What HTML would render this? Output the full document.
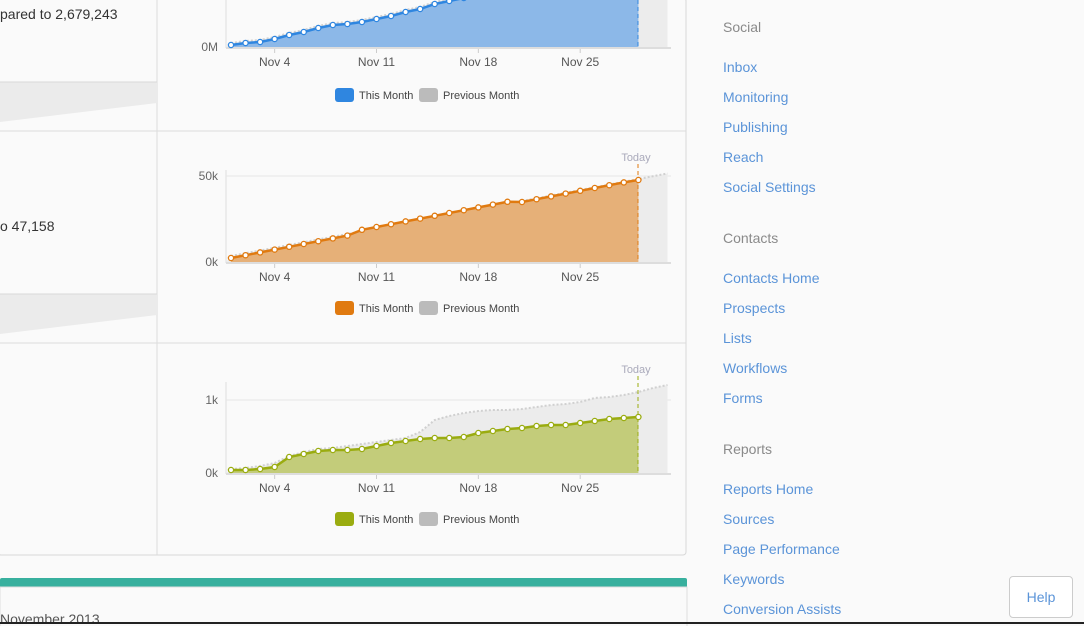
<!DOCTYPE html>
<html><head><meta charset="utf-8"><style>
body{margin:0;width:1084px;height:626px;overflow:hidden;background:#fafafa;font-family:"Liberation Sans",sans-serif;position:relative}
.side{position:absolute;left:723px;font-size:14px;color:#5b94d8}
.hd{position:absolute;left:723px;font-size:14px;color:#8a8a8a}
</style></head><body>
<svg id="s" width="1084" height="626" style="position:absolute;left:0;top:0" font-family="Liberation Sans, sans-serif">
<rect x="-2" y="-2" width="688" height="557" fill="#fafafa" stroke="#d8d8d8" rx="3"/>
<line x1="157" y1="0" x2="157" y2="555" stroke="#dcdcdc"/>
<line x1="0" y1="131" x2="686" y2="131" stroke="#dcdcdc"/>
<line x1="0" y1="343" x2="686" y2="343" stroke="#dcdcdc"/>
<polygon points="0,82 157,82 157,103 0,122" fill="#ebebeb"/>
<line x1="0" y1="82" x2="157" y2="82" stroke="#d8d8d8"/>
<polygon points="0,294 157,294 157,315 0,334" fill="#ebebeb"/>
<line x1="0" y1="294" x2="157" y2="294" stroke="#d8d8d8"/>
<text x="0" y="19" font-size="14" fill="#333">pared to 2,679,243</text>
<text x="0" y="231" font-size="14" fill="#333">o 47,158</text>
<rect x="0" y="578" width="687" height="10" fill="#38b09e" rx="2"/>
<rect x="0" y="587" width="687" height="40" fill="#fafafa" stroke="#ddd"/>
<text x="0" y="624" font-size="14" fill="#555">November 2013</text>
<line x1="0" y1="623" x2="1084" y2="623" stroke="#222" stroke-width="2"/>
<g id="c"></g>
</svg>
<div class="hd" style="top:19px">Social</div>
<div class="side" style="top:59px">Inbox</div>
<div class="side" style="top:89px">Monitoring</div>
<div class="side" style="top:119px">Publishing</div>
<div class="side" style="top:149px">Reach</div>
<div class="side" style="top:179px">Social Settings</div>
<div class="hd" style="top:230px">Contacts</div>
<div class="side" style="top:270px">Contacts Home</div>
<div class="side" style="top:300px">Prospects</div>
<div class="side" style="top:330px">Lists</div>
<div class="side" style="top:360px">Workflows</div>
<div class="side" style="top:390px">Forms</div>
<div class="hd" style="top:441px">Reports</div>
<div class="side" style="top:481px">Reports Home</div>
<div class="side" style="top:511px">Sources</div>
<div class="side" style="top:541px">Page Performance</div>
<div class="side" style="top:571px">Keywords</div>
<div class="side" style="top:601px">Conversion Assists</div>
<div style="position:absolute;left:1009px;top:576px;width:62px;height:40px;border:1px solid #ccc;border-radius:4px;background:#fff;color:#5b94d8;font-size:14px;text-align:center;line-height:40px">Help</div>
<script>
var g=document.getElementById('c'),h='';
function X(d){return 231+(d-1)*14.55}
function chart(base,ticks,cur,prev,col,fill,top,today,lo){
 h+='<line x1="226" y1="'+top+'" x2="226" y2="'+(base+1)+'" stroke="#ddd"/>';
 ticks.forEach(function(t){h+='<text x="218" y="'+(t[1]+4)+'" font-size="12" fill="#666" text-anchor="end">'+t[0]+'</text>';if(t[1]!=base)h+='<line x1="226" y1="'+t[1]+'" x2="671" y2="'+t[1]+'" stroke="#e6e6e6"/>';});
 var pp='226,'+base+' ';prev.forEach(function(v,i){pp+=X(i+1)+','+v+' '});pp+=X(31)+','+base;
 h+='<polygon points="'+pp+'" fill="#ececec"/>';
 var pl='';prev.forEach(function(v,i){pl+=X(i+1)+','+v+' '});
 h+='<polyline points="'+pl+'" fill="none" stroke="#d0d0d0" stroke-width="2" stroke-dasharray="2,2"/>';
 var cp=X(1)+','+base+' ',cl='';cur.forEach(function(v,i){cp+=X(i+1)+','+v+' ';cl+=X(i+1)+','+v+' '});cp+=X(cur.length)+','+base;
 h+='<polygon points="'+cp+'" fill="'+fill+'"/>';
 h+='<line x1="226" y1="'+(base+1)+'" x2="671" y2="'+(base+1)+'" stroke="#ddd" stroke-width="2"/>';
 h+='<line x1="638" y1="'+(today?top-6:0)+'" x2="638" y2="'+base+'" stroke="'+col+'" stroke-dasharray="4,3"/>';
 if(today)h+='<text x="636" y="'+(top-9)+'" font-size="11" fill="#aab" text-anchor="middle">Today</text>';
 h+='<polyline points="'+cl+'" fill="none" stroke="'+col+'" stroke-width="2.5"/>';
 cur.forEach(function(v,i){h+='<circle cx="'+X(i+1)+'" cy="'+v+'" r="2.6" fill="#fff" stroke="'+col+'" stroke-width="1.3"/>'});
 [['Nov 4',4],['Nov 11',11],['Nov 18',18],['Nov 25',25]].forEach(function(t){var x=X(t[1]);h+='<line x1="'+x+'" y1="'+(base+2)+'" x2="'+x+'" y2="'+(base+6)+'" stroke="#ccc"/><text x="'+x+'" y="'+(base+19)+'" font-size="12" fill="#555" text-anchor="middle">'+t[0]+'</text>'});
 var ly=base+lo;
 h+='<rect x="335" y="'+ly+'" width="19" height="14" rx="3" fill="'+col+'"/><text x="359" y="'+(ly+11)+'" font-size="11" fill="#444">This Month</text>';
 h+='<rect x="419" y="'+ly+'" width="19" height="14" rx="3" fill="#bbb"/><text x="443" y="'+(ly+11)+'" font-size="11" fill="#444">Previous Month</text>';
}
var c1=[45,43,42,39,35,32,28,25,24,22,19,16,12,9,4,1,-2,-6,-10,-14,-18,-22,-26,-30,-34,-38,-42,-46,-50];
var p1=c1.map(function(v,i){return v-2}).concat([-55,-60]);
chart(47,[['0M',47]],c1,p1,'#2f86e0','#8cb8e8',-10,false,41);
var c2=[],p2=[];for(var i=0;i<29;i++){c2.push(258-i*2.8-(i>8&&i<20?3:0))}c2[28]=180;
for(var i=0;i<31;i++){p2.push(256-i*2.75)}
chart(262,[['50k',176],['0k',262]],c2,p2,'#e07a10','#e6b078',170,true,39);
var c3=[470,470,469,467,457,454,451,450,450,449,446,443,441,439,438,438,437,433,431,429,428,426,425,425,423,421,419,418,417];
var p3=[469,468,466,463,456,452,449,448,446,444,442,440,438,432,420,416,413,411,410,410,409,407,405,404,402,398,397,395,392,388,385];
chart(473,[['1k',400],['0k',473]],c3,p3,'#9aac10','#c3cc7a',382,true,39);
g.innerHTML=h;
</script>
</body></html>
